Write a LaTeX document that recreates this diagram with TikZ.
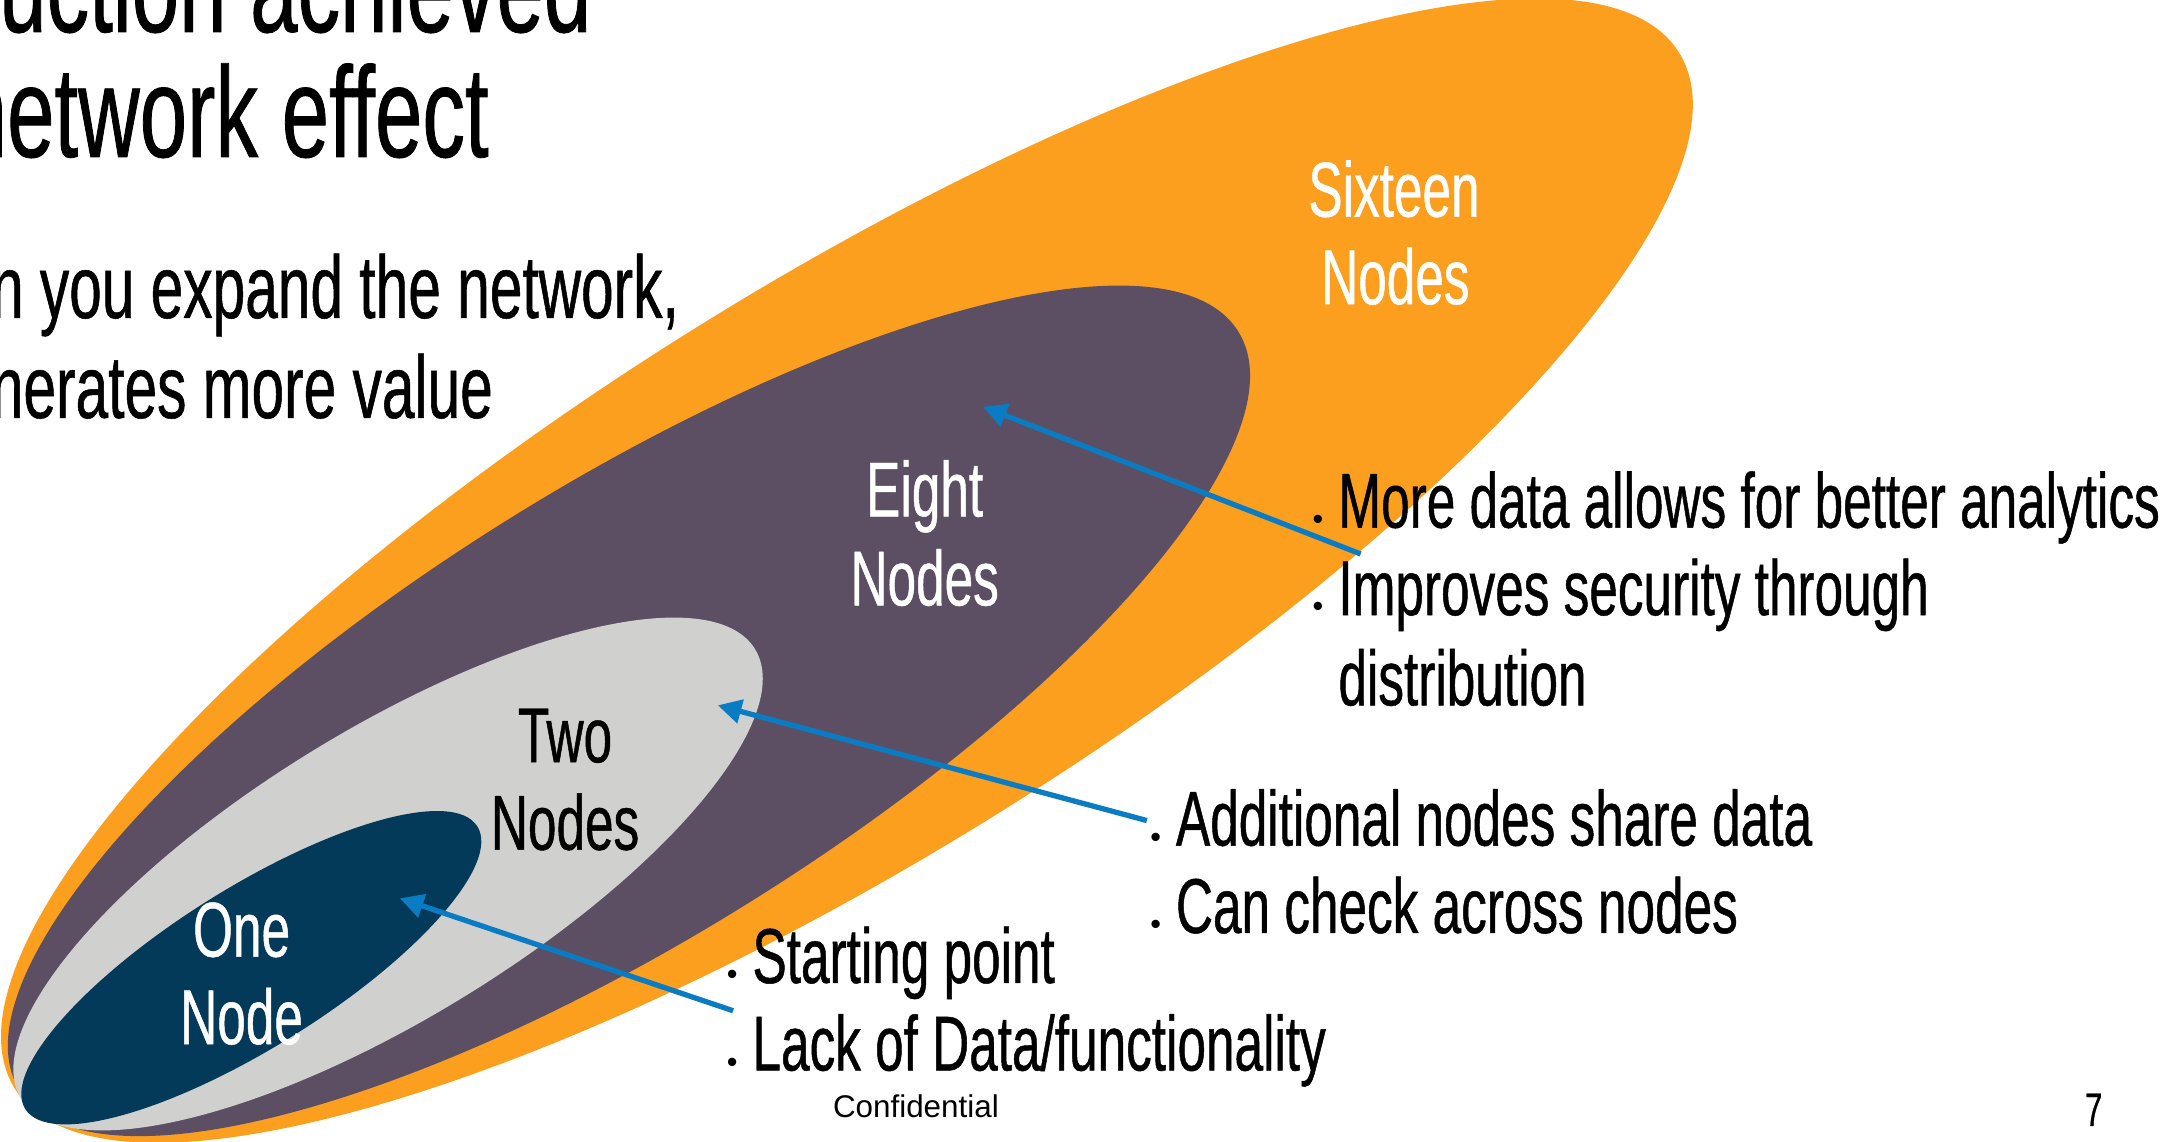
\documentclass[tikz,border=0pt]{standalone}
\usepackage{fontspec}
\setmainfont[FakeStretch=0.66,FakeBold=0.6]{Liberation Sans}
\newfontfamily\plainfont{Liberation Sans}
\usetikzlibrary{arrows.meta}
\definecolor{cOrange}{HTML}{FC9F1F}
\definecolor{cPurple}{HTML}{5C4F63}
\definecolor{cGray}{HTML}{D0D0CE}
\definecolor{cNavy}{HTML}{033A5A}
\definecolor{cArrow}{HTML}{0A7CC4}
\newcommand{\bdot}{\llap{\raisebox{-0.6pt}{\plainfont\fontsize{11}{11}\selectfont\textbullet}\hspace{5.4pt}}}
\begin{document}
\begin{tikzpicture}[x=0.5pt,y=-0.5pt,
  txt/.style={inner sep=0pt, outer sep=0pt},
  titletxt/.style={txt, font=\fontsize{46.5}{50}\selectfont, anchor=base east},
  bodytxt/.style={txt, font=\fontsize{32}{36}\selectfont, anchor=base east},
  lbl/.style={txt, font=\fontsize{28}{32}\selectfont, anchor=base, text=white},
  lbldark/.style={lbl, text=black},
  bullettxt/.style={txt, font=\fontsize{28}{32}\selectfont, anchor=base west},
  conn/.style={draw=cArrow, line width=1.9pt, -{Triangle[length=8.5pt,width=8.5pt]}}
]
\useasboundingbox (0,0) rectangle (1568,822);
\clip (0,0) rectangle (1568,822);
\fill[white] (0,0) rectangle (1568,822);

% nested ellipses
\fill[cOrange, rotate around={31.9:(610,411)}] (610,411) ellipse [x radius=706, y radius=206];
\fill[cPurple, rotate around={31.9:(453,512)}] (453,512) ellipse [x radius=517, y radius=163];
\fill[cGray, rotate around={31.5:(279.5,629.5)}] (279.5,629.5) ellipse [x radius=310, y radius=104];
\fill[cNavy, rotate around={32:(181,697)}] (181,697) ellipse [x radius=192, y radius=57.5];

% title and body (left, partly cut off)
\node[titletxt] (title1) at (426,23) {duction achieved};
\node[titletxt] (title2) at (352,113) {network effect};
\node[bodytxt] (body1) at (489,229) {n you expand the network,};
\node[bodytxt] (body2) at (355,301) {nerates more value};

% ellipse labels
\node[lbl] (sixA) at (1004,156) {Sixteen};
\node[lbl] (sixB) at (1005,219) {Nodes};
\node[lbl] (eightA) at (666,372) {Eight};
\node[lbl] (eightB) at (666,436) {Nodes};
\node[lbldark] (twoA) at (407,549) {Two};
\node[lbldark] (twoB) at (407,612) {Nodes};
\node[lbl] (oneA) at (174,689) {One};
\node[lbl] (oneB) at (174,752) {Node};

% bullet texts
\node[bullettxt] (m1) at (964,380) {\bdot More data allows for better analytics};
\node[bullettxt] (m2) at (964,443) {\bdot Improves security through};
\node[bullettxt] (m3) at (964,508) {distribution};
\node[bullettxt] (a1) at (847,609) {\bdot Additional nodes share data};
\node[bullettxt] (a2) at (847,672) {\bdot Can check across nodes};
\node[bullettxt] (s1) at (542,708) {\bdot Starting point};
\node[bullettxt] (s2) at (542,771) {\bdot Lack of Data/functionality};

% footer
\node[txt, anchor=base west, font=\plainfont\fontsize{11.3}{13}\selectfont] (conf) at (600,805) {Confidential};
\node[txt, anchor=base, font=\fontsize{17}{20}\selectfont] (pagenum) at (1508,811) {7};

% connectors
\coordinate (tailOne) at (528,728);
\coordinate (tipOne) at (288,647);
\coordinate (tailTwo) at (826,591);
\coordinate (tipTwo) at (517,508);
\coordinate (tailEight) at (980,399);
\coordinate (tipEight) at (708,293);
\draw[conn] (tailOne) -- (tipOne);
\draw[conn] (tailTwo) -- (tipTwo);
\draw[conn] (tailEight) -- (tipEight);
\end{tikzpicture}
\end{document}
